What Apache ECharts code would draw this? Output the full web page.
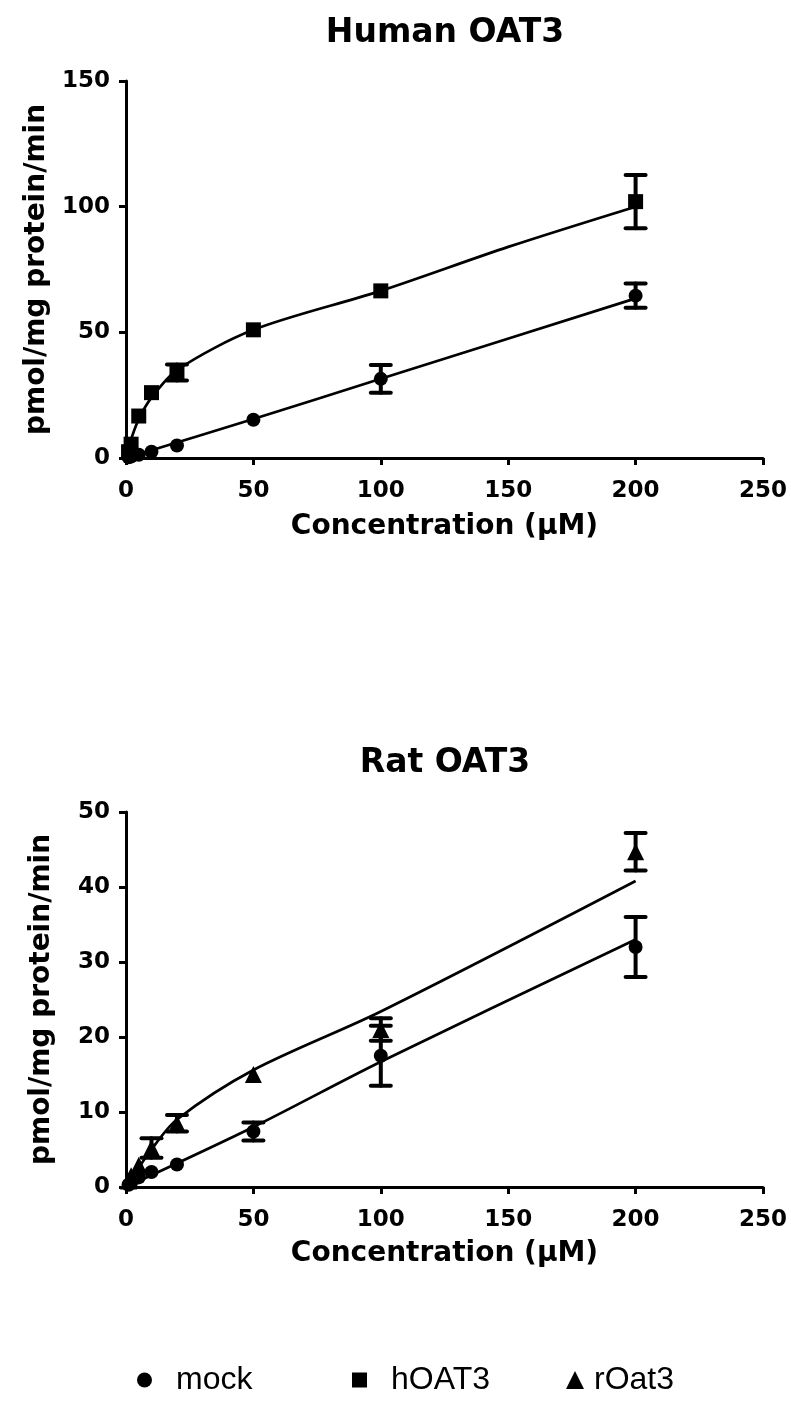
<!DOCTYPE html>
<html>
<head>
<meta charset="utf-8">
<title>OAT3 uptake</title>
<script src="https://cdn.jsdelivr.net/npm/echarts@6/dist/echarts.min.js"></script>
<style>
    html, body { margin: 0; padding: 0; background: #fff; }
    #main { width: 791px; height: 1403px; }
</style>
</head>
<body>
<div id="main"></div>
<script>
// concentrations (uM)
var conc = [1, 2, 5, 10, 20, 50, 100, 200];

// Human OAT3 panel: mean and SEM (0 = hidden behind the marker)
var humanMock = [0.3, 0.6, 1.3, 2.5, 5.0, 15.2, 31.5, 64.6];
var humanMockSem = [0, 0, 0, 0, 0, 0, 5.5, 4.8];
var humanOat = [2.5, 5.5, 16.7, 26.0, 34.0, 51.0, 66.5, 102.0];
var humanOatSem = [0, 0, 0, 0, 3.2, 0, 0, 10.6];

// Rat OAT3 panel: mean and SEM
var ratMock = [0.3, 0.6, 1.3, 2.0, 3.0, 7.4, 17.5, 32.0];
var ratMockSem = [0, 0, 0, 0, 0, 1.2, 4.0, 4.0];
var ratOat = [0.8, 1.5, 2.9, 5.2, 8.5, 15.0, 21.0, 44.7];
var ratOatSem = [0, 0, 0, 1.3, 1.1, 0, 1.5, 2.5];

// fitted curves
var humanOatFitX = [0, 1, 2, 5, 10, 20, 50, 100, 150, 200];
var humanOatFitY = [0, 4, 7.5, 15.5, 24, 35, 51, 66.5, 84, 100];
var humanMockFitX = [0, 50, 100, 200];
var humanMockFitY = [0, 15.5, 31.5, 63.5];
var ratOatFitX = [0, 10, 20, 50, 100, 200];
var ratOatFitY = [0, 5, 9, 15.6, 23.4, 40.8];
var ratMockFitX = [0, 50, 100, 200];
var ratMockFitY = [0, 8, 16.7, 33];

var boldFont = 'DejaVu Sans';

function pairs(xs, ys) {
    var res = [];
    for (var i = 0; i < xs.length; i++) {
        res.push([xs[i], ys[i]]);
    }
    return res;
}

function errPairs(xs, ys, sem) {
    var res = [];
    for (var i = 0; i < xs.length; i++) {
        if (sem[i] > 0) {
            res.push([xs[i], ys[i] - sem[i], ys[i] + sem[i]]);
        }
    }
    return res;
}

function renderErr(params, api) {
    var x = api.value(0);
    var lo = api.coord([x, api.value(1)]);
    var hi = api.coord([x, api.value(2)]);
    var half = 10;
    var st = {stroke: '#000', lineWidth: 4, lineCap: 'round'};
    return {
        type: 'group',
        children: [
            {type: 'line', shape: {x1: lo[0], y1: lo[1], x2: hi[0], y2: hi[1]}, style: st},
            {type: 'line', shape: {x1: hi[0] - half, y1: hi[1], x2: hi[0] + half, y2: hi[1]}, style: st},
            {type: 'line', shape: {x1: lo[0] - half, y1: lo[1], x2: lo[0] + half, y2: lo[1]}, style: st}
        ]
    };
}

function xAxisFor(idx, gap) {
    return {
        type: 'value',
        gridIndex: idx,
        min: 0,
        max: 250,
        interval: 50,
        name: 'Concentration (μM)',
        nameLocation: 'middle',
        nameGap: gap,
        nameTextStyle: {color: '#000', fontFamily: boldFont, fontWeight: 'bold', fontSize: 28},
        axisLine: {onZero: false, lineStyle: {color: '#000', width: 3}},
        axisTick: {length: 7, lineStyle: {color: '#000', width: 3}},
        axisLabel: {color: '#000', fontFamily: boldFont, fontWeight: 'bold', fontSize: 23, margin: 22},
        splitLine: {show: false}
    };
}

function yAxisFor(idx, max, step) {
    return {
        type: 'value',
        gridIndex: idx,
        min: 0,
        max: max,
        interval: step,
        name: 'pmol/mg protein/min',
        nameLocation: 'middle',
        nameGap: 70,
        nameTextStyle: {color: '#000', fontFamily: boldFont, fontWeight: 'bold', fontSize: 28},
        axisLine: {show: true, lineStyle: {color: '#000', width: 3}},
        axisTick: {show: true, length: 7, lineStyle: {color: '#000', width: 3}},
        axisLabel: {color: '#000', fontFamily: boldFont, fontWeight: 'bold', fontSize: 23, margin: 16},
        splitLine: {show: false}
    };
}

function fitLine(name, idx, xs, ys) {
    return {
        name: name + ' fit',
        type: 'line',
        xAxisIndex: idx,
        yAxisIndex: idx,
        data: pairs(xs, ys),
        smooth: 0.3,
        showSymbol: false,
        silent: true,
        lineStyle: {color: '#000', width: 2.7},
        z: 3
    };
}

function errSeries(idx, xs, ys, sem) {
    return {
        type: 'custom',
        xAxisIndex: idx,
        yAxisIndex: idx,
        data: errPairs(xs, ys, sem),
        encode: {x: 0, y: [1, 2]},
        renderItem: renderErr,
        silent: true,
        z: 2
    };
}

function points(name, idx, xs, ys, symbol, size) {
    return {
        name: name,
        type: 'scatter',
        xAxisIndex: idx,
        yAxisIndex: idx,
        data: pairs(xs, ys),
        symbol: symbol,
        symbolSize: size,
        itemStyle: {color: '#000', opacity: 1},
        z: 4
    };
}

function legendFor(name, icon, left, pad, size) {
    return {
        data: [name],
        icon: icon,
        left: left,
        top: 1359,
        itemWidth: size,
        itemHeight: size,
        selectedMode: false,
        itemStyle: {color: '#000', opacity: 1},
        textStyle: {color: '#000', fontFamily: 'Liberation Sans', fontSize: 32, padding: [0, 0, 0, pad]}
    };
}

var myChart = echarts.init(document.getElementById('main'), null, {renderer: 'canvas'});

myChart.setOption({
    backgroundColor: '#fff',
    animation: false,
    title: [
        {
            text: 'Human OAT3',
            left: 440,
            top: 12,
            textAlign: 'center',
            textStyle: {color: '#000', fontFamily: boldFont, fontWeight: 'bold', fontSize: 33}
        },
        {
            text: 'Rat OAT3',
            left: 440,
            top: 742,
            textAlign: 'center',
            textStyle: {color: '#000', fontFamily: boldFont, fontWeight: 'bold', fontSize: 33}
        }
    ],
    legend: [
        legendFor('mock', 'circle', 132, 19, 15),
        legendFor('hOAT3', 'rect', 347, 19, 15),
        legendFor('rOat3', 'triangle', 561, 5, 18)
    ],
    grid: [
        {left: 126, top: 81, width: 637, height: 377},
        {left: 126, top: 812, width: 637, height: 375}
    ],
    xAxis: [xAxisFor(0, 55), xAxisFor(1, 53)],
    yAxis: [yAxisFor(0, 150, 50), yAxisFor(1, 50, 10)],
    series: [
        errSeries(0, conc, humanMock, humanMockSem),
        errSeries(0, conc, humanOat, humanOatSem),
        fitLine('mock', 0, humanMockFitX, humanMockFitY),
        fitLine('hOAT3', 0, humanOatFitX, humanOatFitY),
        points('mock', 0, conc, humanMock, 'circle', 14),
        points('hOAT3', 0, conc, humanOat, 'rect', 15),

        errSeries(1, conc, ratMock, ratMockSem),
        errSeries(1, conc, ratOat, ratOatSem),
        fitLine('mock', 1, ratMockFitX, ratMockFitY),
        fitLine('rOat3', 1, ratOatFitX, ratOatFitY),
        points('mock', 1, conc, ratMock, 'circle', 14),
        points('rOat3', 1, conc, ratOat, 'triangle', 17)
    ]
});
</script>
</body>
</html>
